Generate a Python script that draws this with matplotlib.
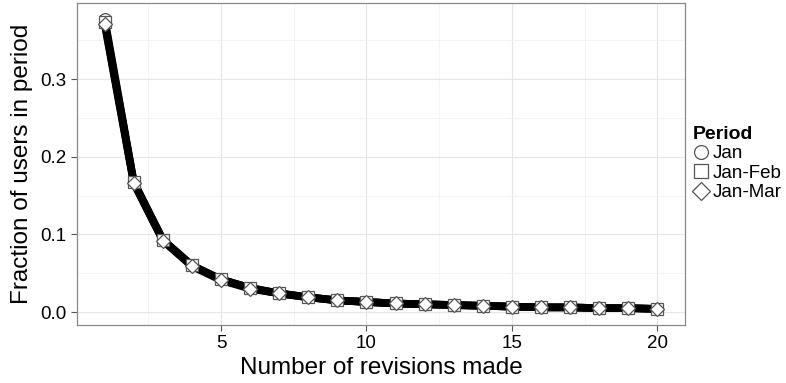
import numpy as np
import matplotlib
matplotlib.use("Agg")
import matplotlib.pyplot as plt
from matplotlib.lines import Line2D

plt.rcParams['font.family'] = ['Liberation Sans', 'DejaVu Sans']

revisions = list(range(1, 21))
jan = [0.378, 0.168, 0.093, 0.060, 0.042, 0.031, 0.024, 0.019, 0.015, 0.013,
       0.011, 0.010, 0.009, 0.008, 0.007, 0.006, 0.006, 0.005, 0.005, 0.004]
jan_feb = [0.374, 0.167, 0.093, 0.060, 0.042, 0.031, 0.024, 0.019, 0.015, 0.013,
           0.011, 0.010, 0.009, 0.008, 0.007, 0.006, 0.006, 0.005, 0.005, 0.004]
jan_mar = [0.371, 0.166, 0.092, 0.059, 0.041, 0.030, 0.024, 0.019, 0.015, 0.013,
           0.011, 0.010, 0.009, 0.008, 0.007, 0.006, 0.006, 0.005, 0.005, 0.004]
periods = ["Jan", "Jan-Feb", "Jan-Mar"]
markers = ["o", "s", "D"]

fig = plt.figure(figsize=(7.86, 3.83), dpi=100)
ax = fig.add_axes([77 / 786, 58 / 383, 608 / 786, 322 / 383])

for vals in (jan, jan_feb, jan_mar):
    ax.plot(revisions, vals, color="black", lw=5.5, solid_joinstyle="round", zorder=2)
for vals, m in zip((jan, jan_feb, jan_mar), markers):
    ms = 8.5 if m != "D" else 7.5
    ax.plot(revisions, vals, ls="none", marker=m, ms=ms, mfc="white",
            mec="#555555", mew=0.9, zorder=3)

ax.set_xlim(0.05, 20.95)
ax.set_ylim(-0.0167, 0.398)
ax.set_xticks([5, 10, 15, 20])
ax.set_yticks([0.0, 0.1, 0.2, 0.3])
ax.set_yticklabels(["0.0", "0.1", "0.2", "0.3"])
ax.set_xticks([2.5, 7.5, 12.5, 17.5], minor=True)
ax.set_yticks([0.05, 0.15, 0.25, 0.35], minor=True)
ax.grid(which="major", color="#e5e5e5", lw=0.8)
ax.grid(which="minor", color="#f2f2f2", lw=0.6)
ax.set_axisbelow(True)
ax.tick_params(which="major", length=4, color="#555555", labelsize=13.5, labelcolor="black")
ax.tick_params(which="minor", length=0)
for s in ax.spines.values():
    s.set_color("#888888")
    s.set_linewidth(0.9)

ax.set_xlabel("Number of revisions made", fontsize=17.5, labelpad=3)
ax.set_ylabel("Fraction of users in period", fontsize=17.5, labelpad=5)

handles = [Line2D([], [], ls="none", marker=m, ms=10 if m != "D" else 9,
                  mfc="white", mec="#555555", mew=0.9) for m in markers]
leg = fig.legend(handles, periods, loc="upper left", bbox_to_anchor=(693 / 786, 1 - 126 / 383),
                 frameon=False, title="Period", fontsize=13.5, handlelength=0.9,
                 handletextpad=0.15, labelspacing=0.12, borderaxespad=0, borderpad=0)
leg.get_title().set_fontweight("bold")
leg.get_title().set_fontsize(14)
leg._legend_box.align = "left"

fig.savefig("out.png", dpi=100)
